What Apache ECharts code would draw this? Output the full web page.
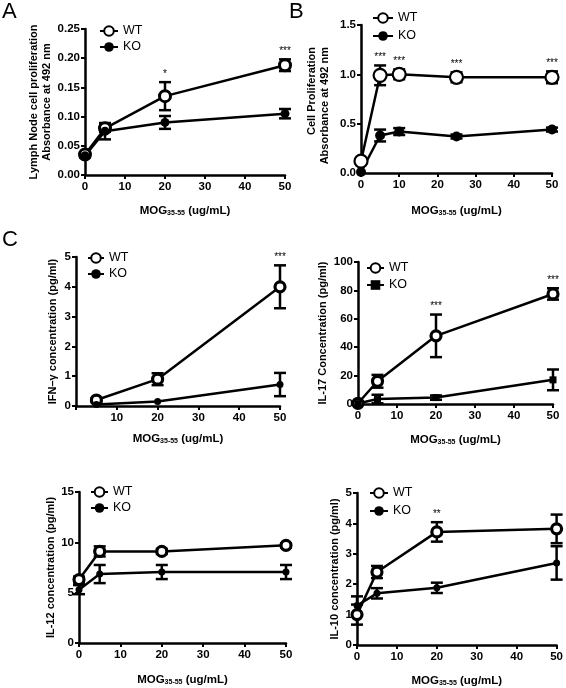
<!DOCTYPE html>
<html>
<head>
<meta charset="utf-8">
<script src="https://cdn.jsdelivr.net/npm/echarts@6/dist/echarts.min.js"></script>
<style>html,body{margin:0;padding:0;background:#fff}#c{width:566px;height:688px}</style>
</head>
<body>
<div id="c"></div>
<script>
// ---------- DATA ----------
// Panel A: Lymph node cell proliferation
const xA = [0, 5, 20, 50];
const wtA = [0.035, 0.080, 0.135, 0.188];
const wtA_err = [0.004, 0.006, 0.024, 0.010];
const koA = [0.033, 0.075, 0.090, 0.105];
const koA_err = [0.003, 0.014, 0.011, 0.008];
const sigA = ['', '', '*', '***'];

// Panel B: Cell proliferation
const xB = [0, 5, 10, 25, 50];
const wtB = [0.12, 0.99, 1.00, 0.97, 0.97];
const wtB_err = [0.02, 0.10, 0.05, 0.05, 0.06];
const koB = [0.01, 0.38, 0.42, 0.37, 0.44];
const koB_err = [0.01, 0.06, 0.035, 0.02, 0.02];
const sigB = ['', '***', '***', '***', '***'];

// Panel C1: IFN-gamma
const xC1 = [5, 20, 50];
const wtC1 = [0.2, 0.9, 4.0];
const wtC1_err = [0.06, 0.2, 0.72];
const koC1 = [0.05, 0.15, 0.72];
const koC1_err = [0.02, 0.03, 0.39];
const sigC1 = ['', '', '***'];

// Panel C2: IL-17
const xC2 = [0, 5, 20, 50];
const wtC2 = [0.5, 16, 48, 77.5];
const wtC2_err = [0.5, 4.5, 15, 4];
const koC2 = [0.3, 3.5, 4.5, 17];
const koC2_err = [0.3, 3, 1.5, 7.3];
const sigC2 = ['', '', '***', '***'];

// Panel C3: IL-12
const xC3 = [0, 5, 20, 50];
const wtC3 = [6.3, 9.1, 9.1, 9.7];
const wtC3_err = [0.3, 0.5, 0.25, 0.2];
const koC3 = [5.3, 6.85, 7.05, 7.05];
const koC3_err = [0.45, 0.9, 0.7, 0.7];
const sigC3 = ['', '', '', ''];

// Panel C4: IL-10
const xC4 = [0, 5, 20, 50];
const wtC4 = [1.0, 2.4, 3.72, 3.82];
const wtC4_err = [0.33, 0.2, 0.32, 0.47];
const koC4 = [1.3, 1.7, 1.88, 2.7];
const koC4_err = [0.3, 0.17, 0.17, 0.55];
const sigC4 = ['', '', '**', ''];

const seriesNames = ['WT', 'KO'];
const xTitle = '{a|MOG}{s|35-55}{a| (ug/mL)}';
const yTitleB = 'Cell Proliferation\nAbsorbance at 492 nm';

// ---------- LAYOUT / STYLE ----------
const FONT = '"Liberation Sans", Arial, Helvetica, sans-serif';
const AXW = 2.5;

const panels = [
  { id: 'A', x: xA, wt: wtA, wtE: wtA_err, ko: koA, koE: koA_err, sig: sigA,
    grid: { left: 85, top: 29, width: 200, height: 146 },
    y: { min: 0, max: 0.25, interval: 0.05, dec: 2 },
    yName: 'Lymph Node cell proliferation\nAbsorbance at 492 nm', yGap: 32,
    xGap: 28, hideX0: false,
    legend: { left: 99, top: 24, w: 18, gap: 2 },
    wtSym: 11, koSym: 9, wtBW: 3, koShape: 'circle' },
  { id: 'B', x: xB, wt: wtB, wtE: wtB_err, ko: koB, koE: koB_err, sig: sigB,
    grid: { left: 361, top: 25, width: 191, height: 148 },
    y: { min: 0, max: 1.5, interval: 0.5, dec: 1 },
    yName: '', yGap: 31,
    xGap: 30, hideX0: false,
    legend: { left: 372, top: 11, w: 20, gap: 4 },
    wtSym: 13, koSym: 10, wtBW: 2.2, koShape: 'circle' },
  { id: 'C1', x: xC1, wt: wtC1, wtE: wtC1_err, ko: koC1, koE: koC1_err, sig: sigC1,
    grid: { left: 76, top: 257, width: 204, height: 149 },
    y: { min: 0, max: 5, interval: 1, dec: 0 },
    yName: 'IFN\u2013\u03b3 concentration (pg/ml)', yGap: 17,
    xGap: 25, hideX0: true,
    legend: { left: 87, top: 251, w: 16, gap: 2 },
    wtSym: 10, koSym: 7, wtBW: 3.2, koShape: 'circle' },
  { id: 'C2', x: xC2, wt: wtC2, wtE: wtC2_err, ko: koC2, koE: koC2_err, sig: sigC2,
    grid: { left: 358, top: 262, width: 195, height: 142 },
    y: { min: 0, max: 100, interval: 20, dec: 0 },
    yName: 'IL-17 Concentration (pg/ml)', yGap: 24,
    xGap: 28, hideX0: false,
    legend: { left: 366, top: 261, w: 17, gap: 3 },
    wtSym: 10, koSym: 7, wtBW: 3.2, koShape: 'rect' },
  { id: 'C3', x: xC3, wt: wtC3, wtE: wtC3_err, ko: koC3, koE: koC3_err, sig: sigC3,
    grid: { left: 79, top: 492, width: 207, height: 151 },
    y: { min: 0, max: 15, interval: 5, dec: 0 },
    yName: 'IL-12 concentration (pg/ml)', yGap: 22,
    xGap: 29, hideX0: false,
    legend: { left: 90, top: 485, w: 17, gap: 2 },
    wtSym: 10, koSym: 7, wtBW: 3.2, koShape: 'circle' },
  { id: 'C4', x: xC4, wt: wtC4, wtE: wtC4_err, ko: koC4, koE: koC4_err, sig: sigC4,
    grid: { left: 357, top: 493, width: 205, height: 154 },
    y: { min: 0, max: 5, interval: 1, dec: 0 },
    yName: 'IL-10 concentration (pg/ml)', yGap: 13,
    xGap: 28, hideX0: false,
    legend: { left: 369, top: 486, w: 18, gap: 4 },
    wtSym: 10, koSym: 7, wtBW: 3.2, koShape: 'circle' }
];

function makeErr(sig) {
  return function (params, api) {
    const xv = api.value(0), m = api.value(1), e = api.value(2);
    const hi = api.coord([xv, m + e]);
    const lo = api.coord([xv, m - e]);
    const children = [];
    const st = { stroke: '#000', lineWidth: 2.5 };
    if (e > 0 && Math.abs(lo[1] - hi[1]) > 3) {
      const hw = 6;
      children.push({ type: 'line', shape: { x1: hi[0], y1: hi[1], x2: lo[0], y2: lo[1] }, style: st });
      children.push({ type: 'line', shape: { x1: hi[0] - hw, y1: hi[1], x2: hi[0] + hw, y2: hi[1] }, style: st });
      children.push({ type: 'line', shape: { x1: lo[0] - hw, y1: lo[1], x2: lo[0] + hw, y2: lo[1] }, style: st });
    }
    const s = sig ? sig[params.dataIndex] : '';
    if (s) {
      children.push({ type: 'text', x: hi[0], y: hi[1] - 3,
        style: { text: s, fill: '#000', font: '10px ' + FONT, align: 'center', verticalAlign: 'bottom' } });
    }
    return { type: 'group', children };
  };
}

const grid = [], xAxis = [], yAxis = [], series = [], legend = [];
panels.forEach((p, i) => {
  grid.push(Object.assign({}, p.grid));
  xAxis.push({
    type: 'value', gridIndex: i, min: 0, max: 50, interval: 10,
    name: xTitle, nameLocation: 'middle', nameGap: p.xGap,
    nameTextStyle: { rich: {
      a: { fontFamily: FONT, fontWeight: 'bold', fontSize: 11.5, color: '#000', verticalAlign: 'bottom', lineHeight: 14 },
      s: { fontFamily: FONT, fontWeight: 'bold', fontSize: 7, color: '#000', verticalAlign: 'bottom', lineHeight: 10 } } },
    axisLine: { show: true, onZero: false, lineStyle: { color: '#000', width: AXW } },
    axisTick: { show: true, length: 4, lineStyle: { color: '#000', width: 2 } },
    axisLabel: { color: '#000', fontFamily: FONT, fontWeight: 'bold', fontSize: 11.5, margin: 6,
      formatter: v => (p.hideX0 && v === 0) ? '' : String(v) },
    splitLine: { show: false }
  });
  yAxis.push({
    type: 'value', gridIndex: i, min: p.y.min, max: p.y.max, interval: p.y.interval,
    name: p.yName, nameLocation: 'middle', nameGap: p.yGap,
    nameTextStyle: { fontFamily: FONT, fontWeight: 'bold', fontSize: 11, color: '#000', lineHeight: 13 },
    axisLine: { show: true, onZero: false, lineStyle: { color: '#000', width: AXW } },
    axisTick: { show: true, length: 4, lineStyle: { color: '#000', width: 2 } },
    axisLabel: { color: '#000', fontFamily: FONT, fontWeight: 'bold', fontSize: 11.5, margin: 5,
      formatter: v => v.toFixed(p.y.dec) },
    splitLine: { show: false }
  });
  const groups = [
    { n: seriesNames[0], v: p.wt, e: p.wtE, sig: p.sig, sym: 'circle', size: p.wtSym, bw: p.wtBW, fill: '#fff' },
    { n: seriesNames[1], v: p.ko, e: p.koE, sig: null, sym: p.koShape, size: p.koSym, bw: 0, fill: '#000' }
  ];
  groups.forEach(g => {
    const name = g.n + '#' + p.id;
    series.push({
      type: 'custom', xAxisIndex: i, yAxisIndex: i, z: 1, clip: false, silent: true,
      renderItem: makeErr(g.sig),
      data: p.x.map((xv, k) => [xv, g.v[k], g.e[k]]),
      encode: { x: 0, y: [1] }
    });
    series.push({
      type: 'line', name, xAxisIndex: i, yAxisIndex: i, z: 3,
      data: p.x.map((xv, k) => [xv, g.v[k]]),
      symbol: g.sym, symbolSize: g.size, showAllSymbol: true,
      lineStyle: { color: '#000', width: 2.5 },
      itemStyle: { color: g.fill, borderColor: '#000', borderWidth: g.bw },
      emphasis: { disabled: true }, animation: false
    });
  });
  legend.push({
    data: [seriesNames[0] + '#' + p.id, seriesNames[1] + '#' + p.id],
    orient: 'vertical', left: p.legend.left, top: p.legend.top, padding: 0,
    itemWidth: p.legend.w, itemHeight: 12, itemGap: p.legend.gap,
    selectedMode: false,
    formatter: n => n.split('#')[0],
    textStyle: { fontFamily: FONT, fontSize: 12.5, color: '#000', lineHeight: 14 }
  });
});

const chart = echarts.init(document.getElementById('c'), null, { renderer: 'canvas' });
chart.setOption({
  backgroundColor: '#fff',
  animation: false,
  grid, xAxis, yAxis, series, legend,
  graphic: [
    { type: 'text', left: 2, top: 1, style: { text: 'A', font: '22px ' + FONT, fill: '#000' } },
    { type: 'text', left: 289, top: 1, style: { text: 'B', font: '22px ' + FONT, fill: '#000' } },
    { type: 'text', left: 2, top: 229, style: { text: 'C', font: '22px ' + FONT, fill: '#000' } },
    { type: 'text', x: 331, y: 47, rotation: Math.PI / 2,
      style: { text: yTitleB, font: 'bold 11px ' + FONT, fill: '#000', align: 'right', verticalAlign: 'bottom', lineHeight: 13 } }
  ]
});
</script>
</body>
</html>
